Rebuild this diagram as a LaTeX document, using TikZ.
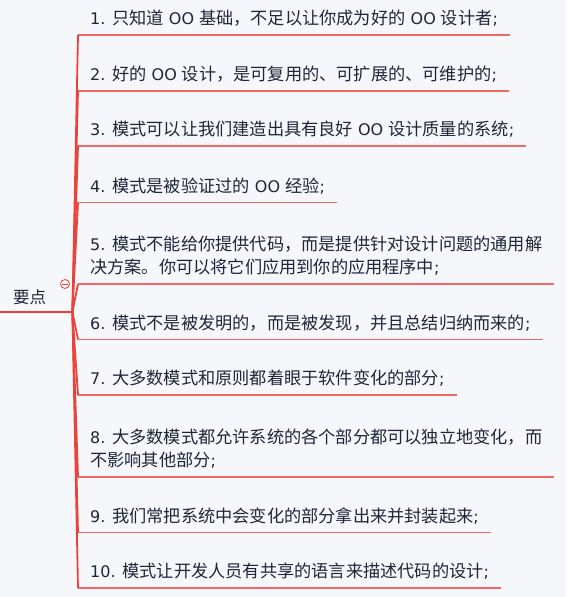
\documentclass[tikz,border=0pt]{standalone}
\usepackage{fontspec}
\setmainfont{Noto Sans CJK SC}
\newfontfamily\latinfont{DejaVu Sans}[Scale=0.93]
\newcommand{\lat}[1]{{\latinfont #1}}
\usepackage{tikz}
\usetikzlibrary{positioning, calc}
\definecolor{mapbg}{RGB}{246,247,250}
\definecolor{mapred}{RGB}{234,68,58}
\definecolor{mapline}{RGB}{240,105,100}
\definecolor{maptext}{RGB}{30,38,56}

\begin{document}
\begin{tikzpicture}[x=1pt, y=-1pt,
  item/.style={anchor=south west, inner xsep=12pt, inner ysep=8pt,
    align=left, text=maptext, font=\fontsize{17.2pt}{23.5pt}\selectfont},
  rootbox/.style={anchor=south west, inner xsep=13pt, inner ysep=7pt,
    text width=46pt, align=left, text=maptext, font=\fontsize{16.5pt}{23.5pt}\selectfont},
  uline/.style={draw=mapline, line width=1.4pt},
  trunk/.style={draw=mapred, line width=1.8pt},
  fold/.style={circle, draw=mapred, line width=0.8pt, minimum size=9pt, inner sep=0pt}
]
\fill[mapbg] (0,0) rectangle (566,597);
\useasboundingbox (0,0) rectangle (566,597);
% root
\node[rootbox] (root) at (0,312) {要点};
\draw[trunk] (root.south west) -- (root.south east);
\node[fold] (fold) at (65,284) {};
\draw[draw=mapred, line width=0.8pt] ([xshift=2pt]fold.west) -- ([xshift=-2pt]fold.east);
% items
\node[item] (i1) at (78,35) {\lat{1. }只知道\lat{ OO }基础，不足以让你成为好的\lat{ OO }设计者\lat{;}};
\node[item] (i2) at (78,91) {\lat{2. }好的\lat{ OO }设计，是可复用的、可扩展的、可维护的\lat{;}};
\node[item] (i3) at (78,146) {\lat{3. }模式可以让我们建造出具有良好\lat{ OO }设计质量的系统\lat{;}};
\node[item] (i4) at (78,202.5) {\lat{4. }模式是被验证过的\lat{ OO }经验\lat{;}};
\node[item] (i5) at (78,284) {\lat{5. }模式不能给你提供代码，而是提供针对设计问题的通用解\\决方案。你可以将它们应用到你的应用程序中\lat{;}};
\node[item] (i6) at (78,339.5) {\lat{6. }模式不是被发明的，而是被发现，并且总结归纳而来的\lat{;}};
\node[item] (i7) at (78,395) {\lat{7. }大多数模式和原则都着眼于软件变化的部分\lat{;}};
\node[item] (i8) at (78,477) {\lat{8. }大多数模式都允许系统的各个部分都可以独立地变化，而\\不影响其他部分\lat{;}};
\node[item] (i9) at (78,532.5) {\lat{9. }我们常把系统中会变化的部分拿出来并封装起来\lat{;}};
\node[item] (i10) at (78,588) {\lat{10. }模式让开发人员有共享的语言来描述代码的设计\lat{;}};
% underlines and connectors
\foreach \i in {1,...,10} {
  \draw[uline] (i\i.south west) -- (i\i.south east);
  \draw[trunk] (root.south east) -- (i\i.south west);
}
\end{tikzpicture}
\end{document}
